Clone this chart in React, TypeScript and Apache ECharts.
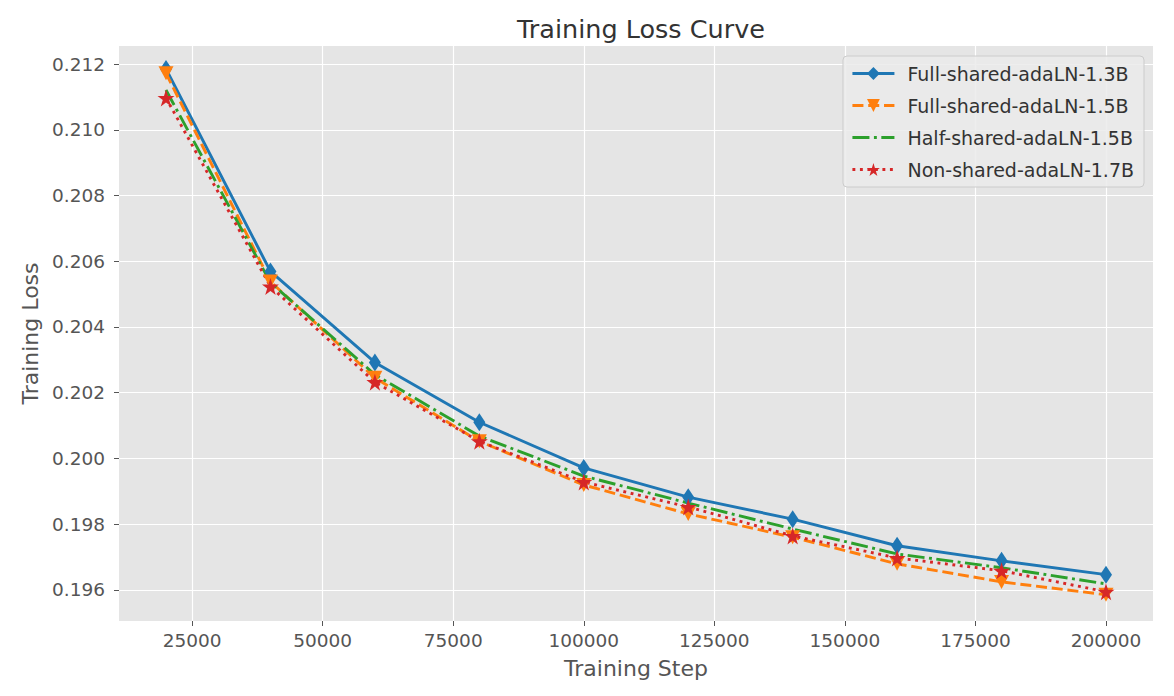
import React, { useEffect, useRef } from 'react'
import * as echarts from 'echarts'

const steps = [20000, 40000, 60000, 80000, 100000, 120000, 140000, 160000, 180000, 200000]

const fullShared13 = [0.21185, 0.20569, 0.20292, 0.2011, 0.19971, 0.19882, 0.19815, 0.19734, 0.19688, 0.19646]
const fullShared15 = [0.21172, 0.20538, 0.20245, 0.20052, 0.19919, 0.19831, 0.1976, 0.19679, 0.19624, 0.19585]
const halfShared15 = [0.21121, 0.20535, 0.20255, 0.20068, 0.19946, 0.19864, 0.19785, 0.19709, 0.19667, 0.19618]
const nonShared17 = [0.21097, 0.20523, 0.20232, 0.20052, 0.19928, 0.19852, 0.19764, 0.19697, 0.19658, 0.19594]

const xTicks = [25000, 50000, 75000, 100000, 125000, 150000, 175000, 200000]
const yTicks = [0.196, 0.198, 0.2, 0.202, 0.204, 0.206, 0.208, 0.21, 0.212]

const FONT = 'DejaVu Sans, Noto Sans, sans-serif'
const LW = 2.9

const thinDiamond = 'path://M0,-1 L0.6,0 L0,1 L-0.6,0 Z'
const triangleDown = 'path://M-1,-0.8 L1,-0.8 L0,0.9 Z'
const star =
  'path://M0,-1 L0.2245,-0.309 L0.951,-0.309 L0.363,0.118 L0.588,0.809 L0,0.382 L-0.588,0.809 L-0.363,0.118 L-0.951,-0.309 L-0.2245,-0.309 Z'

const App: React.FC = () => {
  const chartRef = useRef<HTMLDivElement>(null)

  useEffect(() => {
    document.body.style.margin = '0'
    if (!chartRef.current) return
    const chart = echarts.init(chartRef.current, undefined, { renderer: 'svg' })

    const pair = (vals: number[]) => steps.map((s, i) => [s, vals[i]])

    const option: echarts.EChartsOption = {
      animation: false,
      backgroundColor: '#ffffff',
      title: {
        text: 'Training Loss Curve',
        left: 636,
        top: 11,
        textAlign: 'center',
        textStyle: { fontFamily: FONT, fontSize: 25.5, fontWeight: 'normal', color: '#333333' }
      },
      grid: {
        left: 119,
        right: 21,
        top: 46,
        bottom: 75,
        show: true,
        backgroundColor: '#E5E5E5',
        borderWidth: 0
      },
      legend: {
        orient: 'vertical',
        right: 30,
        top: 56,
        padding: [8, 10, 8, 8],
        itemWidth: 42,
        itemHeight: 16,
        itemGap: 13,
        backgroundColor: 'rgba(235,235,235,0.85)',
        borderColor: '#cccccc',
        borderWidth: 1,
        borderRadius: 4,
        lineStyle: { width: LW },
        textStyle: { fontFamily: FONT, fontSize: 19, color: '#333333', padding: [0, 0, 0, 8] },
        data: [
          { name: 'Full-shared-adaLN-1.3B' },
          { name: 'Full-shared-adaLN-1.5B' },
          { name: 'Half-shared-adaLN-1.5B', itemStyle: { opacity: 0, color: 'rgba(0,0,0,0)', borderWidth: 0 } },
          { name: 'Non-shared-adaLN-1.7B' }
        ]
      },
      xAxis: {
        type: 'value',
        min: 11000,
        max: 209000,
        name: 'Training Step',
        nameLocation: 'middle',
        nameGap: 36,
        nameTextStyle: { fontFamily: FONT, fontSize: 22, color: '#555555' },
        axisLine: { show: false },
        axisTick: { show: true, length: 5, inside: false, customValues: xTicks, lineStyle: { color: '#555555' } },
        axisLabel: {
          customValues: xTicks,
          margin: 10,
          fontFamily: FONT,
          fontSize: 18.5,
          color: '#555555',
          formatter: (v: number) => String(v)
        },
        splitLine: { show: true, lineStyle: { color: '#ffffff', width: 1.2 } }
      },
      yAxis: {
        type: 'value',
        min: 0.19505,
        max: 0.21255,
        name: 'Training Loss',
        nameLocation: 'middle',
        nameGap: 78,
        nameTextStyle: { fontFamily: FONT, fontSize: 22, color: '#555555' },
        axisLine: { show: false },
        axisTick: { show: true, length: 5, inside: false, customValues: yTicks, lineStyle: { color: '#555555' } },
        axisLabel: {
          customValues: yTicks,
          margin: 14,
          fontFamily: FONT,
          fontSize: 18.5,
          color: '#555555',
          formatter: (v: number) => v.toFixed(3)
        },
        splitLine: { show: true, lineStyle: { color: '#ffffff', width: 1.2 } }
      },
      series: [
        {
          name: 'Full-shared-adaLN-1.3B',
          type: 'line',
          data: pair(fullShared13),
          color: '#1f77b4',
          symbol: thinDiamond,
          symbolSize: [12, 18],
          lineStyle: { width: LW, type: 'solid' }
        },
        {
          name: 'Full-shared-adaLN-1.5B',
          type: 'line',
          data: pair(fullShared15),
          color: '#ff7f0e',
          symbol: triangleDown,
          symbolSize: [15, 14],
          lineStyle: { width: LW, type: [11, 4.8] }
        },
        {
          name: 'Half-shared-adaLN-1.5B',
          type: 'line',
          data: pair(halfShared15),
          color: '#2ca02c',
          symbol: 'none',
          showSymbol: false,
          lineStyle: { width: LW, type: [17, 4.5, 2.9, 4.5] }
        },
        {
          name: 'Non-shared-adaLN-1.7B',
          type: 'line',
          data: pair(nonShared17),
          color: '#d62728',
          symbol: star,
          symbolSize: 17,
          lineStyle: { width: LW, type: [2.9, 4.6] }
        }
      ]
    }

    chart.setOption(option)
    return () => {
      chart.dispose()
    }
  }, [])

  return <div ref={chartRef} style={{ width: '1174px', height: '696px' }} />
}

export default App
